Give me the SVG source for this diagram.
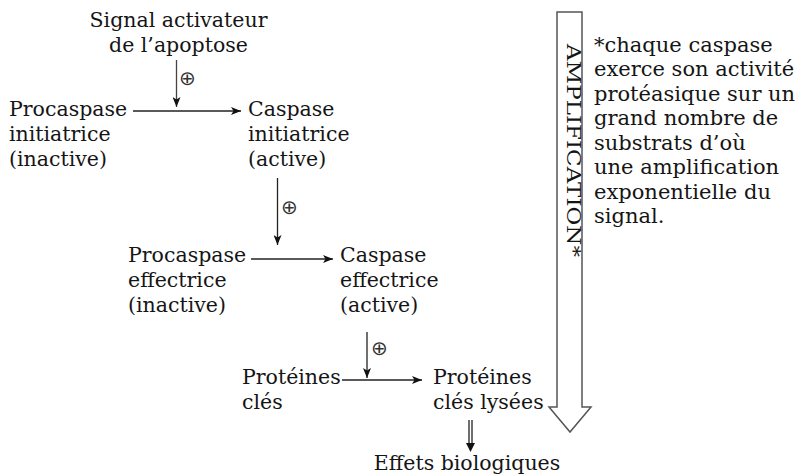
<svg xmlns="http://www.w3.org/2000/svg" width="803" height="476" viewBox="0 0 803 476">
<style>
.t{font-family:"DejaVu Serif","Liberation Serif",serif;font-size:20.5px;fill:#151515}
.n{font-size:21px}
.p{font-family:"DejaVu Sans",sans-serif;font-size:20px;fill:#333}
.ln{stroke:#222;stroke-width:1.3;fill:none}
</style>
<defs>
<marker id="ah" viewBox="0 0 10 8" refX="10" refY="4" markerWidth="10" markerHeight="8" orient="auto" markerUnits="userSpaceOnUse"><path d="M0,0 L10,4 L0,8 L2.5,4 z" fill="#111"/></marker>
</defs>
<rect width="803" height="476" fill="#fff"/>
<g id="connectors">
<path class="ln" d="M133,111 H241" marker-end="url(#ah)"/>
<path class="ln" d="M176.5,60 V107" marker-end="url(#ah)" style="stroke:#444"/>
<path class="ln" d="M277.5,178 V245" marker-end="url(#ah)"/>
<path class="ln" d="M251,259 H333" marker-end="url(#ah)"/>
<path class="ln" d="M367,332 V378" marker-end="url(#ah)"/>
<path class="ln" d="M342,380 H422" marker-end="url(#ah)"/>
<path class="ln" d="M469,420 V445 M472,420 V445"/>
<path d="M466,443 L475,443 L470.5,452 z" fill="#111"/>
<text class="p" x="187.5" y="84.5" text-anchor="middle">⊕</text>
<text class="p" x="289.5" y="213.5" text-anchor="middle">⊕</text>
<text class="p" x="379.5" y="355" text-anchor="middle">⊕</text>
</g>
<g id="signal"><text class="t" x="178.5" y="27" text-anchor="middle">Signal activateur</text><text class="t" x="178.5" y="52" text-anchor="middle">de l’apoptose</text></g>
<g id="procaspase-initiatrice"><text class="t" x="9" y="115.5">Procaspase</text><text class="t" x="9" y="140.5">initiatrice</text><text class="t" x="9" y="165.5">(inactive)</text></g>
<g id="caspase-initiatrice"><text class="t" x="248" y="115.5">Caspase</text><text class="t" x="248" y="140.5">initiatrice</text><text class="t" x="248" y="165.5">(active)</text></g>
<g id="procaspase-effectrice"><text class="t" x="128" y="262">Procaspase</text><text class="t" x="128" y="287">effectrice</text><text class="t" x="128" y="312">(inactive)</text></g>
<g id="caspase-effectrice"><text class="t" x="340" y="262">Caspase</text><text class="t" x="340" y="287">effectrice</text><text class="t" x="340" y="312">(active)</text></g>
<g id="proteines-cles"><text class="t" x="242" y="384">Protéines</text><text class="t" x="242" y="409">clés</text></g>
<g id="proteines-lysees"><text class="t" x="433" y="384">Protéines</text><text class="t" x="433" y="409">clés lysées</text></g>
<g id="effets"><text class="t" x="467" y="470" text-anchor="middle">Effets biologiques</text></g>
<g id="amplification">
<path d="M557,12 H582 V407 H591 L570,432 L549,407 H557 Z" fill="#fff" stroke="#555" stroke-width="1.5"/>
<text class="t" transform="translate(566.5,44) rotate(90)" style="font-size:18px" textLength="213" lengthAdjust="spacingAndGlyphs">AMPLIFICATION*</text>
</g>
<g id="note">
<text class="t n" x="594" y="51.5">*chaque caspase</text>
<text class="t n" x="594" y="76">exerce son activité</text>
<text class="t n" x="594" y="100.5">protéasique sur un</text>
<text class="t n" x="594" y="125">grand nombre de</text>
<text class="t n" x="594" y="149.5">substrats d’où</text>
<text class="t n" x="594" y="174">une amplification</text>
<text class="t n" x="594" y="198.5">exponentielle du</text>
<text class="t n" x="594" y="223">signal.</text>
</g>
</svg>
